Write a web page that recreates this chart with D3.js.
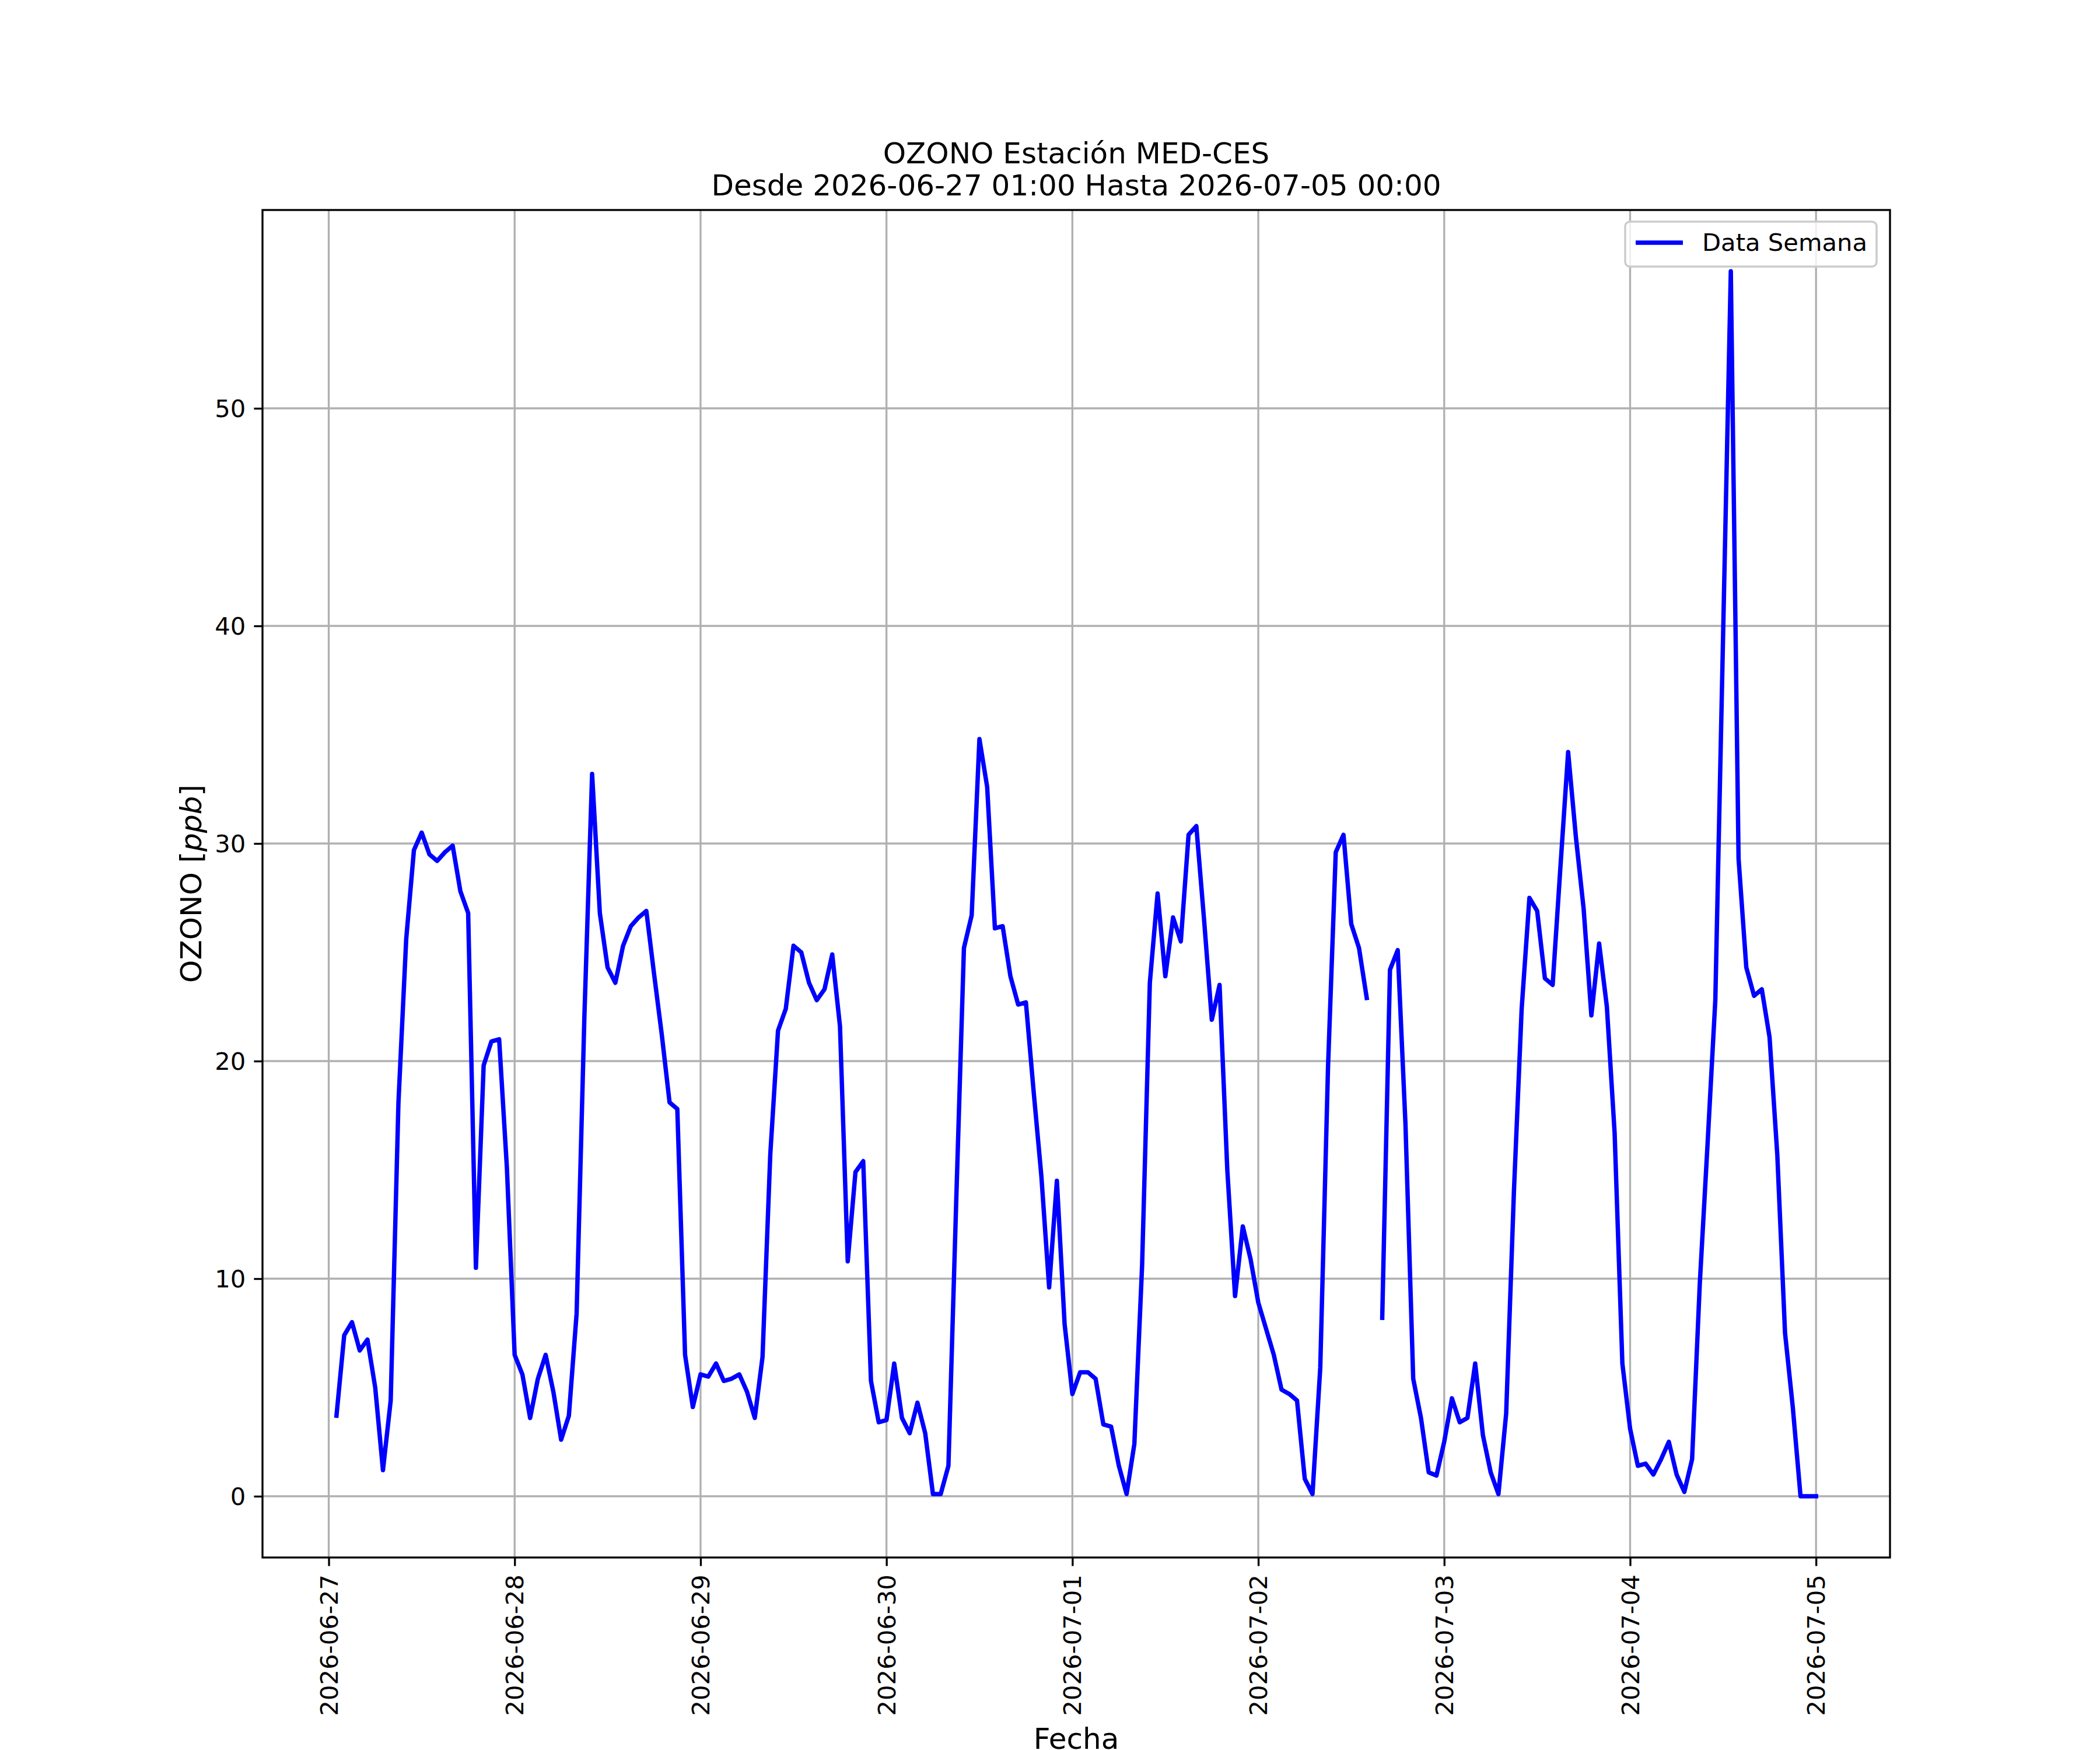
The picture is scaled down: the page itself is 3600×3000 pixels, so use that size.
<!DOCTYPE html>
<html>
<head>
	<meta charset="utf-8">
	<title>OZONO MED-CES</title>
	<script src="https://cdn.jsdelivr.net/npm/d3@7"></script>
	<style>
		body { margin: 0; background: #fff; }
		text { font-family: "DejaVu Sans", sans-serif; fill: #000; }
	</style>
</head>
<body>
<script type="text/javascript">
	// serie horaria, primer dato 2026-06-27 01:00 (UTC), un valor por hora
	var startHour = Date.UTC(2026, 5, 27, 1);
	var ozono = [
		3.7, 7.4, 8.0, 6.7, 7.2, 5.0, 1.2, 4.4, 18.1, 25.6, 29.7, 30.5,
		29.5, 29.2, 29.6, 29.9, 27.8, 26.8, 10.5, 19.8, 20.9, 21.0, 15.1, 6.5,
		5.6, 3.6, 5.4, 6.5, 4.8, 2.6, 3.7, 8.4, 22.0, 33.2, 26.8, 24.3,
		23.6, 25.3, 26.2, 26.6, 26.9, 24.0, 21.2, 18.1, 17.8, 6.5, 4.1, 5.6,
		5.5, 6.1, 5.3, 5.4, 5.6, 4.8, 3.6, 6.4, 15.7, 21.4, 22.4, 25.3,
		25.0, 23.6, 22.8, 23.3, 24.9, 21.6, 10.8, 14.9, 15.4, 5.3, 3.4, 3.5,
		6.1, 3.6, 2.9, 4.3, 2.9, 0.1, 0.1, 1.4, 13.5, 25.2, 26.7, 34.8,
		32.6, 26.1, 26.2, 23.9, 22.6, 22.7, 18.6, 14.7, 9.6, 14.5, 7.9, 4.7,
		5.7, 5.7, 5.4, 3.3, 3.2, 1.4, 0.1, 2.4, 10.6, 23.6, 27.7, 23.9,
		26.6, 25.5, 30.4, 30.8, 26.5, 21.9, 23.5, 15.0, 9.2, 12.4, 10.9, 8.9,
		7.7, 6.5, 4.9, 4.7, 4.4, 0.8, 0.1, 5.9, 19.7, 29.6, 30.4, 26.3,
		25.2, 22.9, null, 8.2, 24.2, 25.1, 17.1, 5.4, 3.6, 1.1, 0.95, 2.5,
		4.5, 3.4, 3.6, 6.1, 2.8, 1.1, 0.1, 3.8, 14.0, 22.4, 27.5, 26.9,
		23.8, 23.5, 28.9, 34.2, 30.3, 27.0, 22.1, 25.4, 22.5, 16.7, 6.1, 3.1,
		1.4, 1.5, 1.0, 1.7, 2.5, 1.0, 0.2, 1.7, 9.8, 16.2, 22.8, 39.5,
		56.3, 29.3, 24.3, 23.0, 23.3, 21.1, 15.7, 7.5, 4.1, 0.0, 0.0, 0.0
	];
	var yTicks = [0, 10, 20, 30, 40, 50];
	var titleLines = ["OZONO Estación MED-CES", "Desde 2026-06-27 01:00 Hasta 2026-07-05 00:00"];
	var seriesName = "Data Semana";

	var W = 3600, H = 3000;
	var plotL = 450, plotR = 3240, plotT = 360, plotB = 2670;
	var lw = 3.33; // 0.8pt a 300 dpi
	var tickLen = 14.6, tickPad = 14.6;
	var fsTick = 41.7, fsLabel = 50;

	var data = ozono.map(function(v, i) {
		return { t: new Date(startHour + i * 3600e3), v: v };
	});

	var t0 = data[0].t.getTime(), t1 = data[data.length - 1].t.getTime();
	var xpad = (t1 - t0) * 0.05;
	var x = d3.scaleUtc()
		.domain([new Date(t0 - xpad), new Date(t1 + xpad)])
		.range([plotL, plotR]);

	var vals = ozono.filter(function(v) { return v !== null; });
	var ymin = d3.min(vals), ymax = d3.max(vals);
	var ypad = (ymax - ymin) * 0.05;
	var y = d3.scaleLinear()
		.domain([ymin - ypad, ymax + ypad])
		.range([plotB, plotT]);

	var svg = d3.select("body")
		.append("svg")
		.attr("width", W)
		.attr("height", H);

	svg.append("rect").attr("width", W).attr("height", H).attr("fill", "#fff");

	var dayTicks = d3.utcDay.range(d3.utcDay.ceil(x.domain()[0]), x.domain()[1]);

	// grilla
	svg.append("g").selectAll("line")
		.data(dayTicks).enter().append("line")
		.attr("x1", function(d) { return x(d); })
		.attr("x2", function(d) { return x(d); })
		.attr("y1", plotT).attr("y2", plotB)
		.attr("stroke", "#b0b0b0").attr("stroke-width", lw);
	svg.append("g").selectAll("line")
		.data(yTicks).enter().append("line")
		.attr("y1", function(d) { return y(d); })
		.attr("y2", function(d) { return y(d); })
		.attr("x1", plotL).attr("x2", plotR)
		.attr("stroke", "#b0b0b0").attr("stroke-width", lw);

	// serie
	var line = d3.line()
		.defined(function(d) { return d.v !== null; })
		.x(function(d) { return x(d.t); })
		.y(function(d) { return y(d.v); });

	svg.append("path")
		.datum(data)
		.attr("d", line)
		.attr("fill", "none")
		.attr("stroke", "#0000ff")
		.attr("stroke-width", 7.5)
		.attr("stroke-linejoin", "round")
		.attr("stroke-linecap", "square");

	// ejes
	var xAxis = d3.axisBottom(x)
		.tickValues(dayTicks)
		.tickSize(tickLen)
		.tickFormat(d3.utcFormat("%Y-%m-%d"));

	var gx = svg.append("g")
		.attr("transform", "translate(0," + plotB + ")")
		.call(xAxis);
	gx.select(".domain").remove();
	gx.selectAll(".tick line").attr("stroke", "#000").attr("stroke-width", lw);
	gx.selectAll(".tick text")
		.attr("transform", "rotate(-90)")
		.attr("x", -(tickLen + tickPad))
		.attr("y", 0)
		.attr("dy", "0.35em")
		.attr("text-anchor", "end")
		.style("font-size", fsTick + "px")
		.style("font-family", "DejaVu Sans");

	var yAxis = d3.axisLeft(y)
		.tickValues(yTicks)
		.tickSize(tickLen)
		.tickPadding(tickPad - 0.5);

	var gy = svg.append("g")
		.attr("transform", "translate(" + plotL + ",0)")
		.call(yAxis);
	gy.select(".domain").remove();
	gy.selectAll(".tick line").attr("stroke", "#000").attr("stroke-width", lw);
	gy.selectAll(".tick text")
		.attr("dy", "0.35em")
		.style("font-size", fsTick + "px")
		.style("font-family", "DejaVu Sans");

	// marco
	svg.append("rect")
		.attr("x", plotL).attr("y", plotT)
		.attr("width", plotR - plotL).attr("height", plotB - plotT)
		.attr("fill", "none")
		.attr("stroke", "#000")
		.attr("stroke-width", lw);

	// titulos
	svg.append("g").selectAll("text")
		.data(titleLines).enter().append("text")
		.attr("x", (plotL + plotR) / 2)
		.attr("y", function(d, i) { return 280 + i * 55; })
		.attr("text-anchor", "middle")
		.style("font-size", fsLabel + "px")
		.text(function(d) { return d; });

	svg.append("text")
		.attr("x", (plotL + plotR) / 2)
		.attr("y", 2998)
		.attr("text-anchor", "middle")
		.style("font-size", fsLabel + "px")
		.text("Fecha");

	var ylab = svg.append("text")
		.attr("transform", "translate(345," + (plotT + plotB) / 2 + ") rotate(-90)")
		.attr("text-anchor", "middle")
		.style("font-size", fsLabel + "px");
	ylab.append("tspan").text("OZONO [");
	ylab.append("tspan").style("font-style", "italic").text("ppb");
	ylab.append("tspan").text("]");

	// leyenda
	var lg = svg.append("g");
	lg.append("rect")
		.attr("x", 2786).attr("y", 380)
		.attr("width", 431).attr("height", 77)
		.attr("rx", 8)
		.attr("fill", "#fff").attr("fill-opacity", 0.8)
		.attr("stroke", "#cccccc").attr("stroke-width", 3.5);
	lg.append("line")
		.attr("x1", 2804).attr("x2", 2885)
		.attr("y1", 416).attr("y2", 416)
		.attr("stroke", "#0000ff").attr("stroke-width", 7.5);
	lg.append("text")
		.attr("x", 2918).attr("y", 430)
		.style("font-size", fsTick + "px")
		.text(seriesName);
</script>
</body>
</html>
